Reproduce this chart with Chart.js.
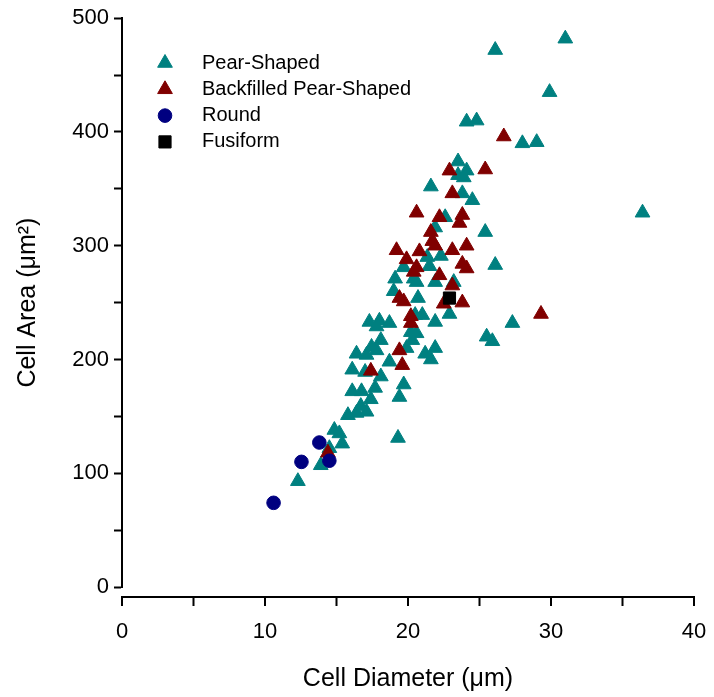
<!DOCTYPE html>
<html>
<head>
<meta charset="utf-8">
<script src="https://cdn.jsdelivr.net/npm/chart.js@4.4.0/dist/chart.umd.min.js"></script>
<style>
  html, body { margin: 0; padding: 0; background: #fff; }
</style>
</head>
<body>
<canvas id="cellChart" width="714" height="697"></canvas>
<script>
// [cell diameter (um), cell area (um^2)]
const pearShaped = [
    [31.0, 482], [26.1, 472], [29.9, 435], [24.1, 409], [24.8, 410], [28.0, 390], [29.0, 391], [36.4, 329],
    [23.5, 374], [24.1, 366], [23.5, 362], [23.9, 360], [21.6, 352], [23.8, 346], [24.5, 340], [22.6, 325],
    [25.4, 312], [21.9, 316], [26.1, 283], [21.35, 290], [22.3, 291], [21.5, 282], [20.6, 268], [21.9, 268],
    [23.2, 268], [19.1, 271], [19.7, 281], [20.4, 271], [19.0, 260], [20.7, 254], [20.5, 239], [21.0, 239],
    [22.9, 240], [21.9, 233], [20.2, 224], [20.6, 223], [20.3, 217], [21.9, 210], [21.2, 205], [21.6, 200],
    [25.5, 220], [25.9, 216], [27.3, 232],
    [17.3, 233], [18.0, 234], [18.7, 232], [17.8, 229], [18.1, 217], [17.45, 211], [16.4, 205], [17.1, 204],
    [17.8, 208], [19.9, 210], [18.7, 198], [16.1, 191], [17.0, 189], [18.1, 185], [19.7, 178], [19.4, 167],
    [16.1, 172], [16.75, 172], [17.7, 175], [17.4, 165], [16.7, 159], [17.1, 154], [16.4, 153], [15.8, 151],
    [14.85, 138], [15.2, 135], [15.4, 126], [14.5, 122], [13.9, 107], [12.3, 93], [19.3, 131]
];
const backfilled = [
    [26.7, 396], [22.9, 366], [25.4, 367], [23.1, 346], [20.6, 329], [22.2, 325], [23.8, 327], [23.6, 320],
    [21.6, 312], [21.7, 304], [21.9, 300], [23.1, 296], [24.1, 300], [19.9, 288], [19.2, 296], [20.8, 295],
    [20.6, 281], [20.4, 277], [22.2, 274], [23.8, 284], [24.1, 280], [23.1, 265], [22.5, 249], [23.8, 250],
    [19.4, 254], [19.7, 251], [20.2, 238], [20.2, 232], [19.4, 208], [19.6, 195], [17.4, 190], [29.3, 240],
    [14.4, 118]
];
const round = [[10.6, 74], [12.55, 110], [13.8, 127], [14.5, 111]];
const fusiform = [[22.9, 254]];

const seriesNames = ['Pear-Shaped', 'Backfilled Pear-Shaped', 'Round', 'Fusiform'];
const xLabelTicks = [0, 10, 20, 30, 40];
const yLabelTicks = [0, 100, 200, 300, 400, 500];

const FONT = 'Arial, "Liberation Sans", sans-serif';
const toPoints = arr => arr.map(([x, y]) => ({ x: x, y: y }));

// legend drawn inside the plot area, top-left
const insideLegend = {
    id: 'insideLegend',
    afterDatasetsDraw(chart, args, opts) {
        const ctx = chart.ctx;
        ctx.save();
        chart.data.datasets.forEach((ds, i) => {
            const y = opts.top + i * opts.rowGap;
            ctx.fillStyle = ds.backgroundColor;
            ctx.strokeStyle = ds.borderColor;
            ctx.lineWidth = ds.borderWidth;
            Chart.helpers.drawPoint(ctx, {
                pointStyle: ds.pointStyle,
                radius: ds.pointRadius,
                borderWidth: ds.borderWidth,
                rotation: 0
            }, opts.left, y);
            ctx.fillStyle = '#000';
            ctx.font = opts.fontSize + 'px ' + FONT;
            ctx.textAlign = 'left';
            ctx.textBaseline = 'middle';
            ctx.fillText(ds.label, opts.textLeft, y);
        });
        ctx.restore();
    }
};

// x axis sits a little below the y axis origin (detached axis)
const detachedXAxis = {
    id: 'detachedXAxis',
    afterDraw(chart, args, opts) {
        const ctx = chart.ctx;
        const xs = chart.scales.x;
        const y0 = chart.chartArea.bottom + opts.gap;
        ctx.save();
        ctx.strokeStyle = '#000';
        ctx.lineWidth = 2;
        ctx.beginPath();
        ctx.moveTo(xs.left - 1, y0);
        ctx.lineTo(xs.right + 1, y0);
        xs.ticks.forEach(t => {
            const px = xs.getPixelForValue(t.value);
            ctx.moveTo(px, y0);
            ctx.lineTo(px, y0 + opts.tickLength);
        });
        ctx.stroke();
        ctx.restore();
    }
};

new Chart(document.getElementById('cellChart').getContext('2d'), {
    type: 'scatter',
    data: {
        datasets: [{
            label: seriesNames[0],
            data: toPoints(pearShaped),
            pointStyle: 'triangle',
            pointRadius: 8.5,
            backgroundColor: '#008080',
            borderColor: '#008080',
            borderWidth: 1,
            order: 4
        }, {
            label: seriesNames[1],
            data: toPoints(backfilled),
            pointStyle: 'triangle',
            pointRadius: 8.5,
            backgroundColor: '#800000',
            borderColor: '#800000',
            borderWidth: 1,
            order: 3
        }, {
            label: seriesNames[2],
            data: toPoints(round),
            pointStyle: 'circle',
            pointRadius: 6.8,
            backgroundColor: '#000080',
            borderColor: '#000080',
            borderWidth: 1,
            order: 2
        }, {
            label: seriesNames[3],
            data: toPoints(fusiform),
            pointStyle: 'rect',
            pointRadius: 8.6,
            backgroundColor: '#000000',
            borderColor: '#000000',
            borderWidth: 1,
            order: 1
        }]
    },
    options: {
        responsive: false,
        animation: false,
        layout: { padding: { top: 16, right: 20, left: 0, bottom: 0 } },
        scales: {
            x: {
                type: 'linear',
                min: 0,
                max: 40,
                afterFit: s => { s.height = 110; },
                border: { display: false },
                // invisible tick marks just reserve room; real axis drawn by detachedXAxis
                grid: { drawOnChartArea: false, drawTicks: true, tickLength: 32, tickColor: 'rgba(0,0,0,0)' },
                ticks: {
                    stepSize: 5,
                    autoSkip: false,
                    maxRotation: 0,
                    padding: 0,
                    color: '#000',
                    font: { size: 22, family: FONT },
                    callback: v => xLabelTicks.includes(v) ? String(v) : ''
                },
                title: {
                    display: true,
                    text: 'Cell Diameter (μm)',
                    color: '#000',
                    font: { size: 25, family: FONT },
                    padding: { top: 0, bottom: 3 }
                }
            },
            y: {
                min: 0,
                max: 500,
                afterFit: s => { s.width = 122; },
                border: { color: '#000', width: 2 },
                grid: { drawOnChartArea: false, tickLength: 8, tickColor: '#000', tickWidth: 2 },
                ticks: {
                    stepSize: 50,
                    autoSkip: false,
                    padding: 5,
                    color: '#000',
                    font: { size: 22, family: FONT },
                    callback: v => yLabelTicks.includes(v) ? String(v) : ''
                },
                title: {
                    display: true,
                    text: 'Cell Area (μm²)',
                    color: '#000',
                    font: { size: 25, family: FONT },
                    padding: { top: 13, bottom: 0 }
                }
            }
        },
        plugins: {
            legend: { display: false },
            tooltip: { enabled: false },
            insideLegend: { left: 165, textLeft: 202, top: 63, rowGap: 26.3, fontSize: 20 },
            detachedXAxis: { gap: 10, tickLength: 9 }
        }
    },
    plugins: [insideLegend, detachedXAxis]
});
</script>
</body>
</html>
